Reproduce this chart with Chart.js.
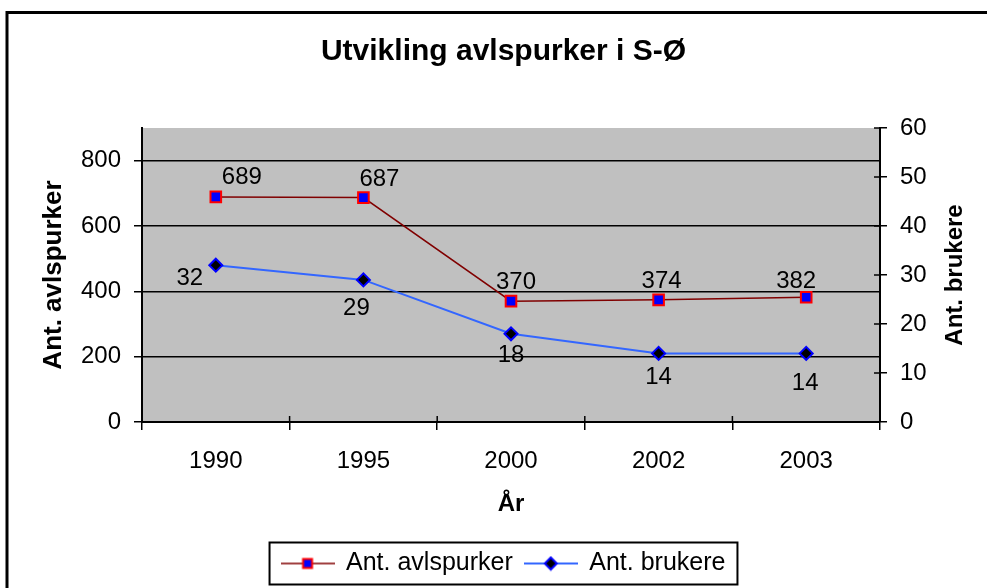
<!DOCTYPE html>
<html>
<head>
<meta charset="utf-8">
<title>Utvikling avlspurker i S-Ø</title>
<script src="https://cdn.jsdelivr.net/npm/chart.js@4/dist/chart.umd.min.js"></script>
<style>
  html,body{margin:0;padding:0;background:#fff;}
  #wrap{position:relative;width:987px;height:588px;}
</style>
</head>
<body>
<div id="wrap"><canvas id="chart"></canvas></div>
<script>
/* global Chart */

// data
const years = ['1990', '1995', '2000', '2002', '2003'];
const avlspurker = [689, 687, 370, 374, 382];
const brukere = [32, 29, 18, 14, 14];

// where each value label sits relative to its point (px)
const avlLabelOffsets = [[26, -20], [16, -18], [5, -19], [3, -18], [-10, -16]];
const brukLabelOffsets = [[-26, 13], [-7, 28], [0, 22], [0, 24], [-1, 30]];

const FONT = "'Liberation Sans', Arial, sans-serif";
Chart.defaults.font.family = FONT;
Chart.defaults.color = '#000';

function legendIcon(lineColor, lineWidth, drawMarker) {
  const c = document.createElement('canvas');
  c.width = 54; c.height = 16;
  const g = c.getContext('2d');
  g.strokeStyle = lineColor; g.lineWidth = lineWidth;
  g.beginPath(); g.moveTo(0, 8); g.lineTo(54, 8); g.stroke();
  drawMarker(g, 27, 8);
  return c;
}

const legendIcons = [
  legendIcon('#800000', 1.5, (g, x, y) => {
    g.fillStyle = '#0000FF'; g.strokeStyle = '#FF0000'; g.lineWidth = 2;
    g.fillRect(x - 4.5, y - 4.5, 9, 9); g.strokeRect(x - 4.5, y - 4.5, 9, 9);
  }),
  legendIcon('#3366FF', 2, (g, x, y) => {
    g.fillStyle = '#000'; g.strokeStyle = '#0000FF'; g.lineWidth = 2;
    g.beginPath(); g.moveTo(x, y - 6); g.lineTo(x + 6, y); g.lineTo(x, y + 6); g.lineTo(x - 6, y); g.closePath();
    g.fill(); g.stroke();
  })
];

const backdrop = {
  id: 'backdrop',
  beforeDraw(chart) {
    const {ctx, chartArea: a} = chart;
    ctx.save();
    ctx.fillStyle = '#fff';
    ctx.fillRect(0, 0, chart.width, chart.height);
    ctx.fillStyle = '#C0C0C0';
    ctx.fillRect(a.left, a.top, a.right - a.left, a.bottom - a.top);
    // outer frame (only top and left edges are inside the picture)
    ctx.strokeStyle = '#000';
    ctx.lineWidth = 3;
    ctx.beginPath();
    ctx.moveTo(7, chart.height); ctx.lineTo(7, 12.5); ctx.lineTo(chart.width, 12.5);
    ctx.stroke();
    ctx.restore();
  }
};

const extras = {
  id: 'extras',
  afterDraw(chart) {
    const {ctx, chartArea: a} = chart;
    const x = chart.scales.x, y1 = chart.scales.y1;
    ctx.save();
    ctx.strokeStyle = '#000';
    ctx.lineWidth = 1.5;
    // tick marks reaching into the plot
    const step = x.getPixelForValue(1) - x.getPixelForValue(0);
    ctx.beginPath();
    for (let i = 0; i <= years.length; i++) {
      const px = x.getPixelForValue(i) - step / 2;
      ctx.moveTo(px, a.bottom - 6); ctx.lineTo(px, a.bottom);
    }
    for (const t of y1.ticks) {
      const py = y1.getPixelForValue(t.value);
      ctx.moveTo(a.right - 6, py); ctx.lineTo(a.right, py);
    }
    ctx.stroke();

    // value labels
    ctx.fillStyle = '#000';
    ctx.font = '24px ' + FONT;
    ctx.textAlign = 'center';
    ctx.textBaseline = 'middle';
    const offs = [avlLabelOffsets, brukLabelOffsets];
    chart.data.datasets.forEach((ds, di) => {
      chart.getDatasetMeta(di).data.forEach((pt, i) => {
        ctx.fillText(String(ds.data[i]), pt.x + offs[di][i][0], pt.y + offs[di][i][1]);
      });
    });

    // right axis title, reading bottom to top
    ctx.font = 'bold 24px ' + FONT;
    ctx.translate(955, (a.top + a.bottom) / 2);
    ctx.rotate(-Math.PI / 2);
    ctx.fillText('Ant. brukere', 0, 0);
    ctx.setTransform(1, 0, 0, 1, 0, 0);

    // legend frame
    const hb = chart.legend.legendHitBoxes;
    if (hb && hb.length) {
      const first = hb[0], last = hb[hb.length - 1];
      const cy = first.top + first.height / 2;
      ctx.lineWidth = 2;
      ctx.strokeRect(first.left - 12, cy - 21, last.left + last.width - first.left + 24, 42);
    }
    ctx.restore();
  }
};

new Chart(document.getElementById('chart'), {
  type: 'line',
  data: {
    labels: years,
    datasets: [{
      label: 'Ant. avlspurker',
      data: avlspurker,
      yAxisID: 'y',
      borderColor: '#800000',
      borderWidth: 1.5,
      pointStyle: 'rect',
      pointRadius: 7.5,
      pointBackgroundColor: '#0000FF',
      pointBorderColor: '#FF0000',
      pointBorderWidth: 2,
      tension: 0
    }, {
      label: 'Ant. brukere',
      data: brukere,
      yAxisID: 'y1',
      borderColor: '#3366FF',
      borderWidth: 2,
      pointStyle: 'rectRot',
      pointRadius: 6.5,
      pointBackgroundColor: '#000',
      pointBorderColor: '#0000FF',
      pointBorderWidth: 2,
      tension: 0
    }]
  },
  options: {
    responsive: true,
    maintainAspectRatio: false,
    animation: false,
    layout: {padding: {left: 20, right: 0, top: 0, bottom: 2}},
    plugins: {
      title: {
        display: true,
        text: 'Utvikling avlspurker i S-Ø',
        color: '#000',
        font: {size: 30, weight: 'bold'},
        padding: {top: 34, bottom: 58}
      },
      legend: {
        position: 'bottom',
        labels: {
          usePointStyle: true,
          pointStyleWidth: 52,
          padding: 12,
          color: '#000',
          font: {size: 25},
          generateLabels: chart => Chart.defaults.plugins.legend.labels.generateLabels(chart)
            .map((l, i) => ({...l, pointStyle: legendIcons[i]}))
        }
      },
      tooltip: {enabled: false}
    },
    scales: {
      x: {
        type: 'category',
        offset: true,
        grid: {offset: true, drawOnChartArea: false, tickLength: 8, color: '#000', lineWidth: 1.5},
        border: {color: '#000', width: 2},
        ticks: {font: {size: 24}, color: '#000', padding: 17},
        title: {display: true, text: 'År', font: {size: 24, weight: 'bold'}, color: '#000', padding: {top: 4, bottom: 20}},
        afterFit: s => { s.height = 117; }
      },
      y: {
        position: 'left',
        min: 0,
        max: 900,
        ticks: {stepSize: 200, font: {size: 24}, color: '#000', padding: 13},
        afterBuildTicks: s => { s.ticks = s.ticks.filter(t => t.value <= 800); },
        grid: {color: '#000', lineWidth: 1.5, tickLength: 8},
        border: {color: '#000', width: 2},
        title: {display: true, text: 'Ant. avlspurker', font: {size: 26, weight: 'bold'}, color: '#000', padding: {top: 18, bottom: 0}},
        afterFit: s => { s.width = 122; }
      },
      y1: {
        position: 'right',
        min: 0,
        max: 60,
        ticks: {stepSize: 10, font: {size: 24}, color: '#000', padding: 13},
        grid: {drawOnChartArea: false, color: '#000', lineWidth: 1.5, tickLength: 7},
        border: {color: '#000', width: 2},
        afterFit: s => { s.width = 107; }
      }
    }
  },
  plugins: [backdrop, extras]
});
</script>
</body>
</html>
